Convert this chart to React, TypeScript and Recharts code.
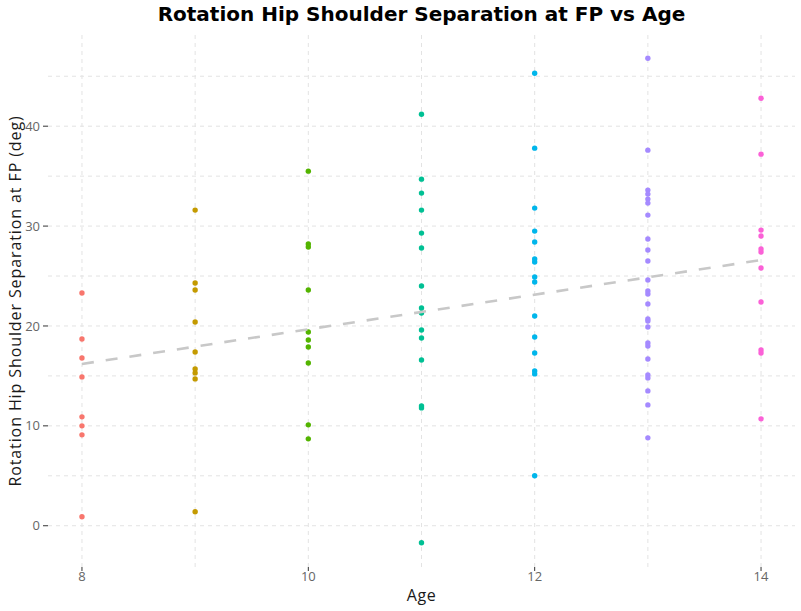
import React from "react";
import { ReferenceLine, Scatter, ScatterChart, XAxis, YAxis } from "recharts";

// per-age values (deg)
const ages = [8, 9, 10, 11, 12, 13, 14];
const age8 = [23.3, 18.7, 16.8, 14.9, 10.9, 10.0, 9.1, 0.9];
const age9 = [31.6, 24.3, 23.6, 20.4, 17.4, 15.7, 15.3, 14.7, 1.4];
const age10 = [35.5, 28.2, 27.9, 23.6, 19.4, 18.6, 17.9, 16.3, 10.1, 8.7];
const age11 = [41.2, 34.7, 33.3, 31.6, 29.3, 27.8, 24.0, 21.8, 21.3, 19.6, 18.8, 16.6, 12.0, 11.8, -1.7];
const age12 = [45.3, 37.8, 31.8, 29.5, 28.4, 26.7, 26.4, 24.9, 24.4, 21.0, 18.9, 17.3, 15.5, 15.2, 5.0];
const age13 = [46.8, 37.6, 33.6, 33.2, 32.7, 32.3, 31.1, 28.7, 27.6, 26.5, 24.6, 23.5, 23.2, 22.2, 20.7, 20.5, 19.9, 18.3, 18.0, 16.7, 15.1, 14.8, 13.5, 12.1, 8.8];
const age14 = [42.8, 37.2, 29.6, 29.0, 27.7, 27.4, 25.8, 22.4, 17.6, 17.3, 10.7];
const groupColors = ["#F8766D", "#C49A00", "#53B400", "#00C094", "#00B6EB", "#A58AFF", "#FB61D7"];

// fitted line end points
const trendAges = [8, 14];
const trendValues = [16.2, 26.6];

const xTicks = [8, 10, 12, 14];
const yTicks = [0, 10, 20, 30, 40];
const xGrid = [8, 9, 10, 11, 12, 13, 14];
const yGrid = [0, 5, 10, 15, 20, 25, 30, 35, 40, 45];

const groups = [age8, age9, age10, age11, age12, age13, age14].map((vals, i) => ({
  age: ages[i],
  color: groupColors[i],
  points: vals.map((v) => ({ age: ages[i], sep: v })),
}));
const trend = trendAges.map((a, i) => ({ age: a, sep: trendValues[i] }));

const font = "'Open Sans', sans-serif";
const gridColor = "#E3E3E3";

export default function App() {
  return (
    <div style={{ position: "absolute", left: 0, top: 0, width: 801, height: 611, background: "#fff", fontFamily: font }}>
      <div
        style={{
          position: "absolute",
          left: 48,
          width: 747,
          top: 2,
          textAlign: "center",
          fontSize: 20,
          fontWeight: 700,
          fontFamily: "'DejaVu Sans', sans-serif",
          color: "#000",
        }}
      >
        Rotation Hip Shoulder Separation at FP vs Age
      </div>
      <div style={{ position: "absolute", left: 48, width: 747, top: 584, textAlign: "center", fontSize: 16, letterSpacing: 0.6, color: "#1a1a1a" }}>
        Age
      </div>
      <div
        style={{
          position: "absolute",
          left: 15,
          top: 301,
          transform: "translate(-50%, -50%) rotate(-90deg)",
          whiteSpace: "nowrap",
          fontSize: 16,
          letterSpacing: 0.9,
          color: "#1a1a1a",
        }}
      >
        Rotation Hip Shoulder Separation at FP (deg)
      </div>
      <ScatterChart width={801} height={611} margin={{ top: 33, right: 6, bottom: 0, left: 0 }}>
        {xGrid.map((x) => (
          <ReferenceLine key={"x" + x} x={x} stroke={gridColor} strokeDasharray="4 4" />
        ))}
        {yGrid.map((y) => (
          <ReferenceLine key={"y" + y} y={y} stroke={gridColor} strokeDasharray="4 4" />
        ))}
        <XAxis
          type="number"
          dataKey="age"
          domain={[7.7, 14.3]}
          allowDataOverflow
          ticks={xTicks}
          height={44}
          axisLine={false}
          tickLine={{ stroke: "#333" }}
          tickSize={4}
          tickMargin={1}
          tick={{ fill: "#666", fontSize: 13, fontFamily: font }}
        />
        <YAxis
          type="number"
          dataKey="sep"
          domain={[-4.13, 49.33]}
          allowDataOverflow
          ticks={yTicks}
          width={48}
          axisLine={false}
          tickLine={{ stroke: "#333" }}
          tickSize={5}
          tickMargin={3}
          tick={{ fill: "#666", fontSize: 13, fontFamily: font }}
        />
        {groups.map((g) => (
          <Scatter
            key={g.age}
            data={g.points}
            isAnimationActive={false}
            shape={(p: any) => <circle cx={p.cx} cy={p.cy} r={2.7} fill={g.color} />}
          />
        ))}
        <Scatter
          data={trend}
          isAnimationActive={false}
          line={{ stroke: "#C8C8C8", strokeWidth: 2.6, strokeDasharray: "12 12" }}
          shape={() => <g />}
        />
      </ScatterChart>
    </div>
  );
}
